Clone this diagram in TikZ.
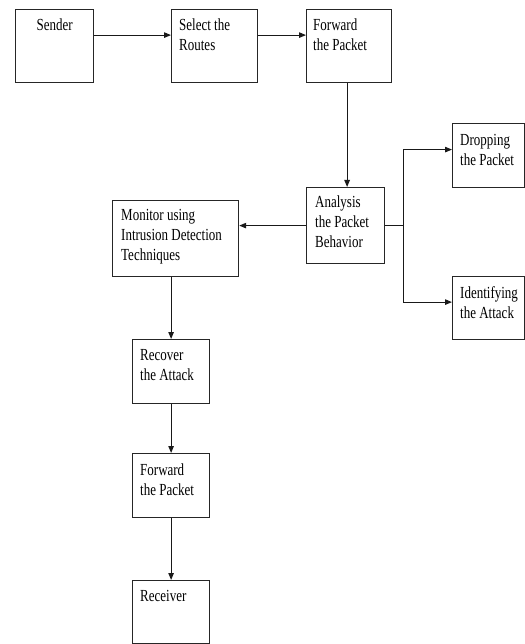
\documentclass[tikz,border=0pt]{standalone}
\usepackage{fontspec}
\usepackage{graphicx}
\setmainfont{Liberation Serif}
\usetikzlibrary{arrows.meta}
\newcommand\tall[1]{\scalebox{1}[1.3]{#1}}
\begin{document}
\begin{tikzpicture}[x=1pt,y=-1pt,
  box/.style={draw=black!85,line width=1.2pt,rectangle,inner sep=0pt,anchor=north west},
  lbl/.style={font=\fontsize{13}{20}\selectfont,align=left,inner sep=0pt,anchor=north west},
  arr/.style={draw=black!90,line width=1pt,-{Triangle[length=7pt,width=5.5pt]}},
  ln/.style={draw=black!90,line width=1pt}]
\useasboundingbox (0,0) rectangle (524,644);
% boxes
\node[box,minimum width=78pt,minimum height=73pt] (snd) at (15,9) {};
\node[box,minimum width=86pt,minimum height=73pt] (sel) at (171,9) {};
\node[box,minimum width=85pt,minimum height=73pt] (fw1) at (306,9) {};
\node[box,minimum width=78pt,minimum height=76pt] (ana) at (306,187) {};
\node[box,minimum width=72pt,minimum height=64pt] (drp) at (452,123) {};
\node[box,minimum width=72pt,minimum height=63pt] (idn) at (452,276) {};
\node[box,minimum width=126pt,minimum height=76pt] (mon) at (112,200) {};
\node[box,minimum width=77pt,minimum height=64pt] (rec) at (132,339) {};
\node[box,minimum width=77pt,minimum height=64pt] (fw2) at (132,453) {};
\node[box,minimum width=77pt,minimum height=63pt] (rcv) at (132,580) {};
% labels
\node[lbl,anchor=north] (tsnd) at ([yshift=-10pt]snd.north) {\tall{Sender}};
\node[lbl] (tsel) at ([xshift=8pt,yshift=-10pt]sel.north west) {\tall{Select the}\\\tall{Routes}};
\node[lbl] (tfw1) at ([xshift=7pt,yshift=-10pt]fw1.north west) {\tall{Forward}\\\tall{the Packet}};
\node[lbl] (tana) at ([xshift=9pt,yshift=-9pt]ana.north west) {\tall{Analysis}\\\tall{the Packet}\\\tall{Behavior}};
\node[lbl] (tdrp) at ([xshift=8pt,yshift=-11pt]drp.north west) {\tall{Dropping}\\\tall{the Packet}};
\node[lbl] (tidn) at ([xshift=8pt,yshift=-10pt]idn.north west) {\tall{Identifying}\\\tall{the Attack}};
\node[lbl] (tmon) at ([xshift=9pt,yshift=-9pt]mon.north west) {\tall{Monitor using}\\\tall{Intrusion Detection}\\\tall{Techniques}};
\node[lbl] (trec) at ([xshift=8pt,yshift=-10pt]rec.north west) {\tall{Recover}\\\tall{the Attack}};
\node[lbl] (tfw2) at ([xshift=8pt,yshift=-11pt]fw2.north west) {\tall{Forward}\\\tall{the Packet}};
\node[lbl] (trcv) at ([xshift=8pt,yshift=-10pt]rcv.north west) {\tall{Receiver}};
% connectors
\coordinate (br) at (403,225);
\draw[arr] ([yshift=11pt]snd.east) -- ([yshift=11pt]sel.west);
\draw[arr] ([yshift=11pt]sel.east) -- ([yshift=11pt]fw1.west);
\draw[arr] ([xshift=-2pt]fw1.south) -- ([xshift=-2pt]fw1.south |- ana.north);
\draw[arr] (ana.west) -- (mon.east |- ana.west);
\draw[ln] (ana.east) -- (br |- ana.east);
\draw[arr] (br) |- ([yshift=6pt]drp.west);
\draw[arr] (br) |- ([yshift=6pt]idn.west);
\draw[arr] (rec.north |- mon.south) -- (rec.north);
\draw[arr] (rec.south) -- (fw2.north);
\draw[arr] (fw2.south) -- (rcv.north);
\end{tikzpicture}
\end{document}
